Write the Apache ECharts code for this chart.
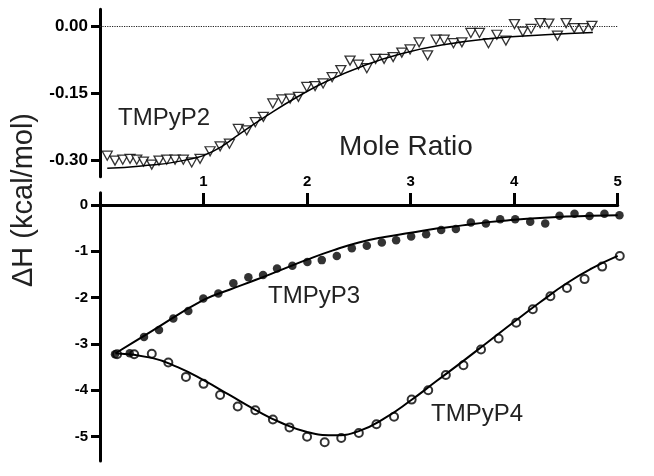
<!DOCTYPE html>
<html>
<head>
<meta charset="utf-8">
<script src="https://cdn.jsdelivr.net/npm/echarts@6/dist/echarts.min.js"></script>
<style>
html,body{margin:0;padding:0;background:#fff;}
#chart{width:654px;height:476px;}
</style>
</head>
<body>
<div id="chart"></div>
<script>
// ---- data ----
const xTickLabels = [1, 2, 3, 4, 5];
const topYTicks = [0, -0.15, -0.30];
const bottomYTicks = [0, -1, -2, -3, -4, -5];

const p2X = [0.07,0.145,0.22,0.29,0.355,0.42,0.50,0.57,0.645,0.725,
             0.805,0.886,0.966,1.063,1.16,1.25,1.336,1.417,1.50,1.578,
             1.669,1.756,1.836,1.916,1.997,2.077,2.155,2.242,2.326,2.415,
             2.496,2.577,2.662,2.744,2.831,2.915,2.995,3.082,3.164,3.246,
             3.324,3.414,3.495,3.582,3.665,3.752,3.833,3.920,4.003,4.084,
             4.164,4.251,4.335,4.418,4.502,4.580,4.670,4.751];
const p2Y = [-0.289,-0.300,-0.298,-0.296,-0.298,-0.302,-0.309,-0.300,-0.298,-0.298,
             -0.298,-0.304,-0.296,-0.279,-0.268,-0.262,-0.229,-0.232,-0.214,-0.202,
             -0.172,-0.163,-0.161,-0.157,-0.135,-0.133,-0.127,-0.113,-0.097,-0.076,
             -0.085,-0.093,-0.072,-0.072,-0.068,-0.058,-0.051,-0.035,-0.064,-0.029,
             -0.029,-0.037,-0.035,-0.014,-0.014,-0.037,-0.018,-0.031,0.006,-0.011,
             -0.005,0.008,0.007,-0.020,0.008,-0.003,-0.003,0.002];
const fit2X = [0.07,0.4,0.8,1.1,1.35,1.6,1.9,2.2,2.55,2.9,3.3,3.8,4.3,4.76];
const fit2Y = [-0.317,-0.312,-0.300,-0.278,-0.240,-0.201,-0.158,-0.121,-0.087,-0.061,-0.041,-0.026,-0.018,-0.013];

const p3X = [0.145,0.287,0.425,0.570,0.708,0.853,0.998,1.143,1.288,1.433,
             1.575,1.710,1.858,2.003,2.142,2.287,2.432,2.577,2.722,2.860,
             3.005,3.150,3.295,3.437,3.582,3.727,3.865,4.010,4.155,4.300,
             4.438,4.583,4.728,4.872,5.017];
const p3Y = [-3.22,-3.20,-2.85,-2.70,-2.45,-2.29,-2.02,-1.91,-1.69,-1.56,
             -1.51,-1.37,-1.31,-1.23,-1.19,-1.10,-0.935,-0.88,-0.81,-0.76,
             -0.68,-0.63,-0.54,-0.52,-0.38,-0.40,-0.31,-0.31,-0.36,-0.40,
             -0.23,-0.19,-0.24,-0.19,-0.22];
const fit3X = [0.15,0.5,1.0,1.25,1.5,1.75,2.0,2.25,2.5,2.75,3.0,3.25,3.5,3.75,4.0,4.25,4.5,4.75,5.0];
const fit3Y = [-3.20,-2.72,-2.05,-1.83,-1.62,-1.40,-1.18,-0.98,-0.81,-0.69,-0.60,-0.51,-0.44,-0.37,-0.32,-0.28,-0.25,-0.23,-0.22];

const p4X = [0.165,0.33,0.50,0.66,0.83,1.00,1.16,1.33,1.50,1.67,
             1.83,2.00,2.17,2.33,2.50,2.67,2.84,3.01,3.17,3.34,
             3.51,3.68,3.85,4.02,4.18,4.35,4.51,4.68,4.85,5.02];
const p4Y = [-3.22,-3.22,-3.21,-3.40,-3.71,-3.86,-4.10,-4.35,-4.43,-4.63,
             -4.80,-5.00,-5.12,-5.03,-4.92,-4.73,-4.57,-4.20,-4.00,-3.67,
             -3.46,-3.12,-2.88,-2.54,-2.25,-1.97,-1.79,-1.60,-1.33,-1.10];
const fit4X = [0.15,0.5,0.75,1.0,1.25,1.5,1.75,2.0,2.25,2.5,2.75,3.0,3.25,3.5,3.75,4.0,4.25,4.5,4.75,5.0];
const fit4Y = [-3.2,-3.3,-3.5,-3.78,-4.1,-4.42,-4.7,-4.9,-4.97,-4.88,-4.6,-4.22,-3.8,-3.38,-2.95,-2.52,-2.1,-1.7,-1.37,-1.1];

const zip = (a, b) => a.map((v, i) => [v, b[i]]);

const chart = echarts.init(document.getElementById('chart'), null, {renderer: 'canvas'});
const tickFont = {color: '#000', fontFamily: 'Liberation Sans', fontWeight: 'bold', fontSize: 15};
const labelFont = 'Liberation Sans';

chart.setOption({
  animation: false,
  backgroundColor: '#fff',
  grid: [
    {left: 100, width: 517.7, top: 9.3, height: 167.4},
    {left: 100, width: 517.7, top: 192.7, height: 268.3}
  ],
  xAxis: [
    {gridIndex: 0, type: 'value', min: 0, max: 5, show: false},
    {gridIndex: 1, type: 'value', min: 0, max: 5, interval: 1, position: 'top', offset: -12.3,
     axisLine: {show: true, onZero: false, lineStyle: {color: '#000', width: 3}},
     axisTick: {show: true, inside: false, length: 12, lineStyle: {color: '#000', width: 3}},
     axisLabel: Object.assign({inside: false, margin: 16,
       formatter: v => xTickLabels.indexOf(v) >= 0 ? String(v) : ''}, tickFont),
     splitLine: {show: false}}
  ],
  yAxis: [
    {gridIndex: 0, type: 'value', min: -0.336, max: 0.039,
     axisLine: {show: true, lineStyle: {color: '#000', width: 3}},
     axisTick: {show: true, length: 9, customValues: topYTicks, lineStyle: {color: '#000', width: 3}},
     axisLabel: Object.assign({margin: 12, customValues: topYTicks,
       formatter: v => v.toFixed(2)}, tickFont, {fontSize: 17}),
     splitLine: {show: false}},
    {gridIndex: 1, type: 'value', min: -5.525, max: 0.265,
     axisLine: {show: true, lineStyle: {color: '#000', width: 3}},
     axisTick: {show: true, length: 9, customValues: bottomYTicks, lineStyle: {color: '#000', width: 3}},
     axisLabel: Object.assign({margin: 12, customValues: bottomYTicks,
       formatter: v => String(Math.round(v))}, tickFont),
     splitLine: {show: false}}
  ],
  series: [
    {type: 'scatter', name: 'TMPyP2', xAxisIndex: 0, yAxisIndex: 0, data: zip(p2X, p2Y),
     symbol: 'triangle', symbolRotate: 180, symbolSize: [10, 9], clip: false, z: 2,
     itemStyle: {color: '#fff', borderColor: '#000', borderWidth: 1.3},
     markLine: {silent: true, symbol: 'none', label: {show: false},
       lineStyle: {type: 'dotted', color: '#222', width: 1.2}, data: [{yAxis: 0}]}},
    {type: 'line', name: 'TMPyP2 fit', xAxisIndex: 0, yAxisIndex: 0, data: zip(fit2X, fit2Y),
     smooth: true, showSymbol: false, symbol: 'none', z: 3, lineStyle: {color: '#000', width: 1.5}},
    {type: 'scatter', name: 'TMPyP4', xAxisIndex: 1, yAxisIndex: 1, data: zip(p4X, p4Y),
     symbol: 'circle', symbolSize: 8, clip: false, z: 2,
     itemStyle: {color: '#fff', borderColor: '#000', borderWidth: 2}},
    {type: 'scatter', name: 'TMPyP3', xAxisIndex: 1, yAxisIndex: 1, data: zip(p3X, p3Y),
     symbol: 'circle', symbolSize: 8.5, clip: false, z: 2,
     itemStyle: {color: '#000', borderColor: '#000', borderWidth: 0}},
    {type: 'line', name: 'TMPyP3 fit', xAxisIndex: 1, yAxisIndex: 1, data: zip(fit3X, fit3Y),
     smooth: true, showSymbol: false, symbol: 'none', z: 3, lineStyle: {color: '#000', width: 2}},
    {type: 'line', name: 'TMPyP4 fit', xAxisIndex: 1, yAxisIndex: 1, data: zip(fit4X, fit4Y),
     smooth: true, showSymbol: false, symbol: 'none', z: 3, lineStyle: {color: '#000', width: 2}}
  ],
  graphic: [
    {type: 'text', x: 24, y: 200, rotation: Math.PI / 2,
     style: {text: 'ΔH (kcal/mol)', fill: '#222', font: '29px "' + labelFont + '"', align: 'center', verticalAlign: 'middle'}},
    {type: 'text', x: 406, y: 147,
     style: {text: 'Mole Ratio', fill: '#222', font: '28px "' + labelFont + '"', align: 'center', verticalAlign: 'middle'}},
    {type: 'text', x: 164, y: 118,
     style: {text: 'TMPyP2', fill: '#222', font: '24px "' + labelFont + '"', align: 'center', verticalAlign: 'middle'}},
    {type: 'text', x: 314, y: 296,
     style: {text: 'TMPyP3', fill: '#222', font: '24px "' + labelFont + '"', align: 'center', verticalAlign: 'middle'}},
    {type: 'text', x: 477, y: 414,
     style: {text: 'TMPyP4', fill: '#222', font: '24px "' + labelFont + '"', align: 'center', verticalAlign: 'middle'}}
  ]
});
</script>
</body>
</html>
